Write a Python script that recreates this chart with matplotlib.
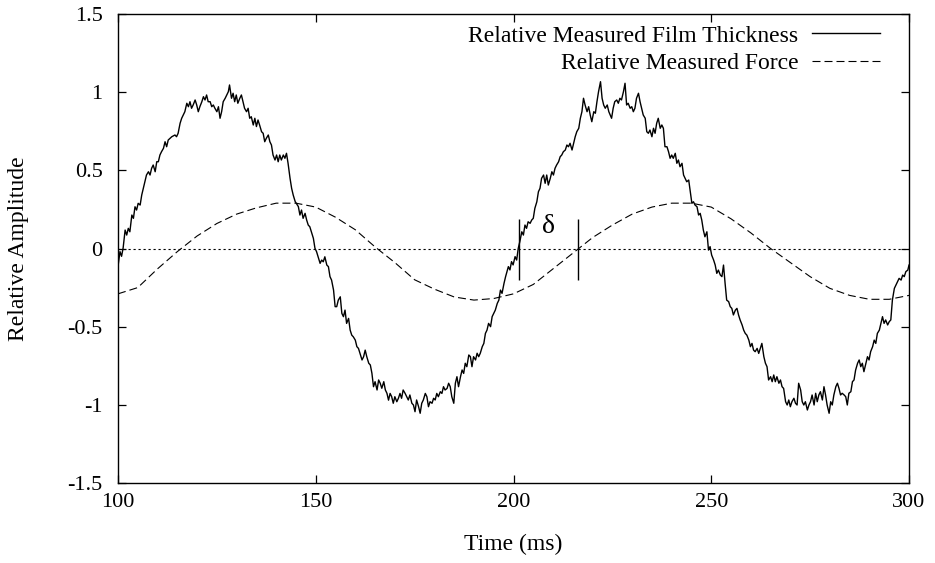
import matplotlib
matplotlib.use("Agg")
import matplotlib.pyplot as plt
from matplotlib.ticker import FixedLocator

plt.rcParams['font.family'] = ['Liberation Serif', 'DejaVu Serif']

# ---------------- data ----------------
thick_time = [
    100.1, 100.5, 100.9, 101.3, 101.8, 102.2, 102.6, 103.0, 103.5, 103.9, 104.3, 104.7, 105.1, 105.6, 106.0,
    106.8, 107.2, 107.7, 108.1, 108.5, 108.9, 109.4, 109.8, 110.2, 110.6, 111.0, 111.5, 111.9, 112.3, 112.7,
    113.6, 114.4, 114.8, 115.2, 115.7, 116.1, 116.5, 116.9, 117.4, 117.8, 118.2, 118.6, 119.0, 119.5, 119.9,
    120.3, 120.7, 121.2, 121.6, 122.0, 122.4, 122.8, 123.3, 123.7, 124.1, 124.5, 125.0, 125.4, 125.8, 126.2,
    126.6, 127.1, 127.9,
    128.2, 128.7, 129.1, 129.5, 129.9, 130.3, 130.8, 131.2, 131.6, 132.0, 132.5, 132.9, 133.3, 133.7, 134.2,
    134.6, 135.0, 135.4, 135.8, 136.3, 136.7, 137.1, 137.5, 138.0, 138.4, 138.8, 139.2, 139.7, 140.1, 140.5,
    140.9, 141.3, 141.8, 142.2, 142.6, 143.0, 143.5, 143.9, 144.3,
    144.8, 145.6, 146.0, 146.4, 146.8, 147.3, 147.7, 148.1, 148.5, 149.0, 149.4, 149.8, 150.2, 150.7, 151.1,
    151.5, 151.9, 152.3, 152.8, 153.2, 153.6, 154.0, 154.5, 154.9, 155.3, 155.7, 156.2, 156.6, 157.0, 157.4,
    157.8, 158.3, 158.7, 159.1, 159.5, 160.0, 160.4, 160.8, 161.2, 161.7, 162.1, 162.5, 162.9, 163.4, 163.8,
    164.2, 164.6, 165.0, 165.5, 165.9, 166.3, 166.7, 167.2, 167.6, 168.0, 168.4,
    168.8, 169.2, 169.6, 170.0, 170.5, 170.9, 171.3, 171.7, 172.1, 172.6, 173.0, 173.4, 173.8, 174.3, 174.7,
    175.1, 175.5, 176.0, 176.4, 176.8, 177.2, 177.7, 178.1, 178.5, 178.9, 179.4, 179.8, 180.2, 180.6, 181.0,
    181.5, 181.9, 182.3, 182.7, 183.2, 183.6, 184.0, 184.4, 184.9, 185.3, 185.7, 186.1, 186.6, 187.0, 187.4,
    187.8, 188.2, 188.7, 189.1, 189.5, 189.9, 190.4, 190.8, 191.2, 191.6, 192.1, 192.5, 192.9, 193.3, 193.7,
    194.2, 194.6, 195.0, 195.4, 195.9, 196.3, 196.7, 197.1, 197.6, 198.0,
    198.7, 199.1, 199.5, 199.9, 200.4, 200.8, 201.2, 201.6, 202.1, 202.5, 202.9, 203.3, 203.7, 204.2, 204.6,
    205.0, 205.4, 205.9, 206.3, 206.7, 207.1, 207.6, 208.0, 208.4, 208.8, 209.3, 209.7, 210.1, 210.5, 210.9,
    211.4, 211.8, 212.2, 212.6, 213.1, 213.5, 213.9, 214.3, 214.8, 215.2, 215.6, 216.0, 216.5, 216.9, 217.3,
    217.7, 218.1, 218.6, 219.0, 219.4, 219.8, 220.3, 220.7, 221.1, 221.5, 222.0, 222.4, 222.8, 223.2, 223.7,
    224.1,
    224.8, 225.2, 225.6, 226.1, 226.5, 226.9, 227.3, 227.8, 228.2, 228.6, 229.0, 229.5, 229.9, 230.3, 230.7,
    231.1, 231.6, 232.0, 232.4, 232.8, 233.3, 233.7, 234.1, 234.5, 235.0, 235.4, 235.8, 236.2, 236.6, 237.1,
    237.5, 237.9, 238.3, 238.8, 239.2, 239.6, 240.0, 240.4, 240.9, 241.3, 241.7, 242.1, 242.6, 243.0, 243.4,
    243.8, 244.3, 244.7, 245.1, 245.5, 245.9, 246.4, 246.8,
    247.2, 247.6, 248.0, 248.4, 248.9, 249.3, 249.7, 250.1, 250.6, 251.0, 251.4, 251.8, 252.3, 252.7, 253.1,
    253.5, 253.9, 254.4, 254.8, 255.2, 255.6, 256.1, 256.5, 256.9, 257.3, 257.8, 258.2, 258.6, 259.0, 259.5,
    259.9, 260.3, 260.7, 261.1, 261.6, 262.0, 262.4, 262.8, 263.3, 263.7, 264.1, 264.5, 265.0, 265.4, 265.8,
    266.2, 266.6, 267.1, 267.5, 267.9, 268.3, 268.8, 269.2, 269.6, 270.0, 270.4, 270.9, 271.3, 271.7, 272.1,
    272.6, 273.0, 273.4, 273.8, 274.3, 274.7, 275.1, 275.5, 276.0, 276.4, 276.8, 277.2, 277.6, 278.1, 278.5,
    278.9, 279.3, 279.8, 280.2, 280.6, 281.0, 281.5, 281.9, 282.3, 282.7, 283.1, 283.6, 284.0, 284.4, 284.8,
    285.3, 285.7, 286.1, 286.5, 287.0, 287.4, 287.8, 288.2, 288.6, 289.1, 289.5, 289.9, 290.3, 290.8, 291.2,
    291.6, 292.0, 292.5, 292.9, 293.3, 293.7, 294.1, 294.6, 295.0, 295.4, 295.8, 296.3, 296.7, 297.1, 297.5,
    298.0, 298.4, 298.8, 299.2, 299.7, 300.0,
]
thickness = [
    -0.095, -0.02, -0.05, 0.004, 0.118, 0.086, 0.129, 0.107, 0.214, 0.193, 0.267, 0.246, 0.289, 0.278, 0.342,
    0.427, 0.47, 0.491, 0.47, 0.513, 0.534, 0.491, 0.555, 0.555, 0.598, 0.619, 0.641, 0.683, 0.651, 0.694,
    0.715, 0.726, 0.715, 0.737, 0.801, 0.833, 0.854, 0.875, 0.929, 0.907, 0.939, 0.897, 0.918, 0.950, 0.918,
    0.875, 0.907, 0.939, 0.971, 0.950, 0.982, 0.939, 0.939, 0.907, 0.918, 0.897, 0.875, 0.907, 0.833, 0.875,
    0.939, 0.961, 1.003,
    1.046, 0.961, 0.993, 0.939, 0.982, 0.929, 0.961, 0.982, 0.939, 0.897, 0.875, 0.897, 0.833, 0.843, 0.790,
    0.833, 0.780, 0.822, 0.790, 0.747, 0.737, 0.683, 0.705, 0.726, 0.683, 0.662, 0.598, 0.566, 0.598, 0.555,
    0.598, 0.566, 0.598, 0.577, 0.609, 0.545, 0.449, 0.385, 0.342,
    0.300, 0.268, 0.214, 0.246, 0.193, 0.225, 0.182, 0.150, 0.139, 0.097, 0.065, 0.001, -0.020, -0.063, -0.095,
    -0.074, -0.085, -0.053, -0.106, -0.116, -0.180, -0.202, -0.266, -0.372, -0.372, -0.330, -0.309, -0.415, -0.436, -0.394,
    -0.479, -0.447, -0.522, -0.554, -0.565, -0.586, -0.628, -0.639, -0.671, -0.713, -0.692, -0.650, -0.692, -0.734, -0.745,
    -0.798, -0.884, -0.852, -0.905, -0.841, -0.862, -0.894, -0.852, -0.905, -0.926, -0.970,
    -0.927, -0.948, -0.990, -0.948, -0.980, -0.958, -0.927, -0.958, -0.905, -0.927, -0.948, -0.969, -0.937, -0.990, -1.001,
    -1.044, -0.969, -1.012, -1.054, -0.990, -0.969, -0.927, -0.948, -1.012, -0.980, -0.990, -0.958, -0.969, -0.927, -0.948,
    -0.916, -0.927, -0.884, -0.905, -0.895, -0.862, -0.884, -0.948, -0.990, -0.862, -0.820, -0.884, -0.820, -0.777, -0.799,
    -0.734, -0.756, -0.681, -0.692, -0.756, -0.692, -0.713, -0.670, -0.692, -0.670, -0.628, -0.607, -0.543, -0.522, -0.479,
    -0.500, -0.436, -0.415, -0.394, -0.351, -0.330, -0.266, -0.287, -0.223, -0.180,
    -0.116, -0.137, -0.084, -0.105, -0.052, -0.074, 0.001, 0.044, 0.107, 0.086, 0.150, 0.129, 0.171, 0.161, 0.182,
    0.193, 0.257, 0.299, 0.363, 0.385, 0.449, 0.470, 0.417, 0.470, 0.406, 0.449, 0.491, 0.470, 0.513, 0.534,
    0.555, 0.587, 0.598, 0.619, 0.630, 0.662, 0.651, 0.673, 0.630, 0.673, 0.715, 0.747, 0.769, 0.833, 0.875,
    0.961, 0.918, 0.875, 0.907, 0.854, 0.811, 0.875, 0.865, 0.939, 1.003, 1.067, 0.961, 0.918, 0.897, 0.918,
    0.875,
    0.833, 0.897, 0.939, 0.950, 0.929, 0.961, 0.950, 1.003, 1.057, 0.918, 0.929, 0.897, 0.907, 0.875, 0.897,
    0.961, 0.993, 0.939, 0.897, 0.854, 0.833, 0.747, 0.737, 0.758, 0.715, 0.769, 0.737, 0.801, 0.833, 0.769,
    0.790, 0.769, 0.651, 0.651, 0.619, 0.577, 0.598, 0.577, 0.609, 0.545, 0.566, 0.523, 0.545, 0.470, 0.449,
    0.427, 0.438, 0.363, 0.289, 0.299, 0.278, 0.267, 0.214,
    0.225, 0.182, 0.118, 0.075, 0.107, -0.010, 0.012, -0.042, -0.074, -0.106, -0.159, -0.138, -0.170, -0.180, -0.106,
    -0.223, -0.330, -0.340, -0.372, -0.383, -0.425, -0.394, -0.383, -0.425, -0.457, -0.489, -0.522, -0.543, -0.554, -0.586,
    -0.628, -0.607, -0.650, -0.660, -0.639, -0.671, -0.639, -0.607, -0.692, -0.734, -0.756, -0.841, -0.820, -0.852, -0.809,
    -0.852, -0.820, -0.862, -0.841, -0.884, -0.895, -0.980, -1.001, -0.969, -1.012, -0.980, -0.958, -0.990, -1.001, -0.862,
    -0.905, -0.980, -1.001, -0.980, -1.033, -1.001, -0.980, -0.937, -1.001, -0.926, -0.980, -0.937, -0.916, -0.969, -0.884,
    -0.937, -1.001, -1.054, -0.980, -1.001, -0.937, -0.884, -0.862, -0.895, -0.937, -0.926, -0.937, -0.948, -1.001, -0.926,
    -0.916, -0.852, -0.841, -0.778, -0.734, -0.713, -0.756, -0.734, -0.788, -0.734, -0.692, -0.713, -0.660, -0.628, -0.586,
    -0.607, -0.543, -0.522, -0.479, -0.436, -0.479, -0.457, -0.489, -0.468, -0.457, -0.330, -0.255, -0.234, -0.213, -0.191,
    -0.202, -0.170, -0.180, -0.148, -0.138, -0.106,
]

force_time = [100, 105, 110, 115, 120, 125, 130, 135, 140, 145, 150, 155, 160, 165, 170, 175, 180, 185, 190, 195,
              200, 205, 210, 215, 220, 225, 230, 235, 240, 245, 250, 255, 260, 265, 270, 275, 280, 285, 290, 295, 300]
force = [-0.29, -0.25, -0.13, -0.02, 0.08, 0.16, 0.22, 0.26, 0.29, 0.29, 0.265, 0.20, 0.12, 0.01, -0.09, -0.20,
         -0.26, -0.31, -0.33, -0.32, -0.29, -0.23, -0.13, -0.03, 0.07, 0.15, 0.22, 0.265, 0.29, 0.29, 0.265, 0.19,
         0.10, 0.0, -0.09, -0.18, -0.255, -0.30, -0.325, -0.325, -0.30]

delta_times = [201.4, 216.4]
delta_low, delta_high = -0.20, 0.19
delta_label_pos = (208.8, 0.14)

x_ticks = [100, 150, 200, 250, 300]
y_ticks = [-1.5, -1, -0.5, 0, 0.5, 1, 1.5]
y_tick_labels = ["-1.5", "-1", "-0.5", "0", "0.5", "1", "1.5"]

labels = ["Relative Measured Film Thickness", "Relative Measured Force"]

# ---------------- figure ----------------
W, H = 935, 563
fig = plt.figure(figsize=(W / 100, H / 100), dpi=100)
ax = fig.add_axes([118 / W, 1 - 483 / H, (909 - 118) / W, (483 - 14) / H])

FS = 17
FS_TICK = 16

ax.axhline(0, color='black', lw=0.8, linestyle=(0, (2.0, 2.5)), zorder=1)
ax.plot(thick_time, thickness, color='black', lw=1.0, label=labels[0], zorder=3)
ax.plot(force_time, force, color='black', lw=0.8, linestyle=(0, (7.2, 3.6)), label=labels[1], zorder=2)

for t in delta_times:
    ax.vlines(t, delta_low, delta_high, color='black', lw=1.0, zorder=4)
ax.text(delta_label_pos[0], delta_label_pos[1], "δ", fontsize=20, ha='center', va='center')

ax.set_xlim(100, 300)
ax.set_ylim(-1.5, 1.5)
ax.xaxis.set_major_locator(FixedLocator(x_ticks))
ax.set_xticklabels([str(v) for v in x_ticks])
ax.yaxis.set_major_locator(FixedLocator(y_ticks))
ax.set_yticklabels(y_tick_labels)

ax.tick_params(direction='in', length=6, width=0.9, top=True, right=True, labelsize=FS_TICK)
ax.tick_params(axis='x', pad=7)
ax.tick_params(axis='y', pad=11)
for s in ax.spines.values():
    s.set_linewidth(1.0)

ax.set_xlabel("Time (ms)", fontsize=FS)
ax.set_ylabel("Relative Amplitude", fontsize=FS)
ax.xaxis.set_label_coords(0.5, -0.108)
ax.yaxis.set_label_coords(-0.113, 0.5)

leg = ax.legend(loc='upper right', bbox_to_anchor=((880 - 118) / 791, (483 - 25) / 469),
                frameon=False, markerfirst=False, fontsize=FS, handlelength=2.9,
                handletextpad=0.55, borderpad=0, borderaxespad=0, labelspacing=0.25)

fig.savefig("out.png", dpi=100)
